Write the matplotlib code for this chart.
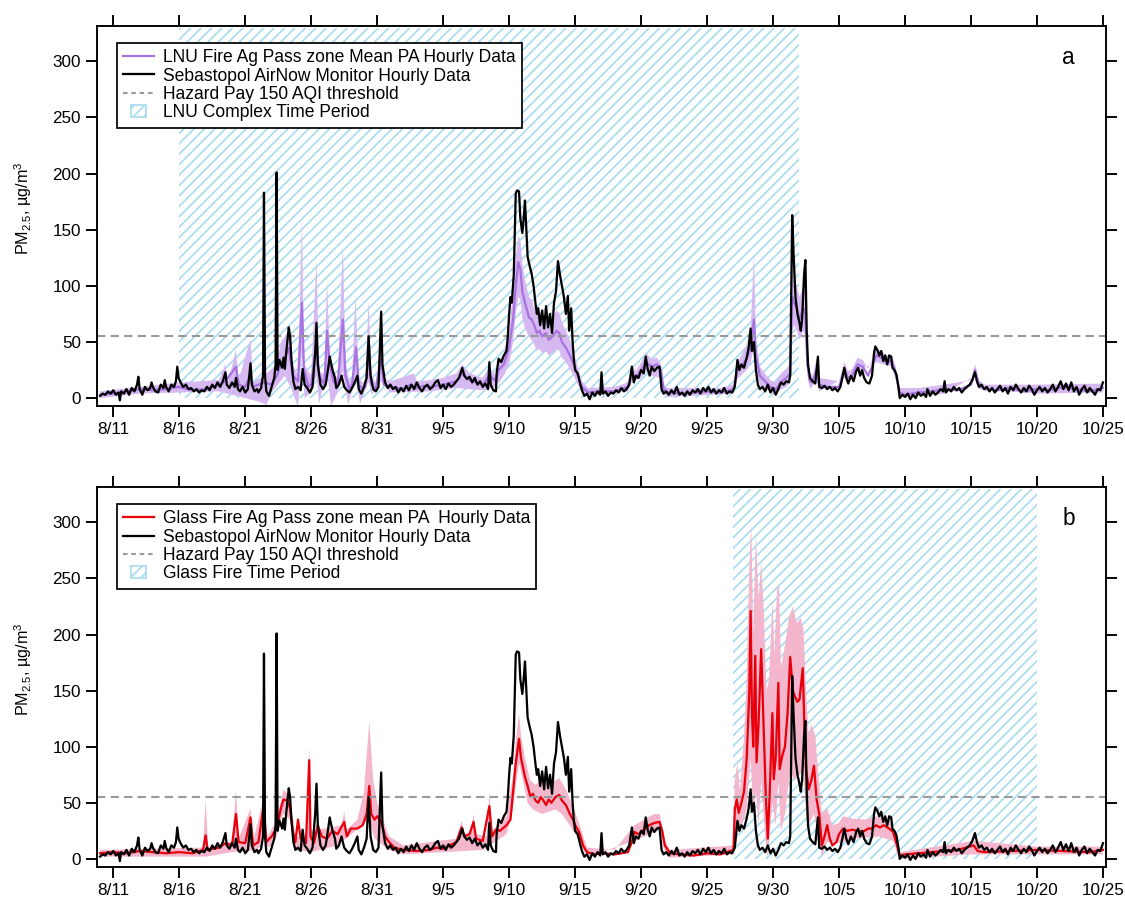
import numpy as np
import matplotlib
matplotlib.use("Agg")
import matplotlib.pyplot as plt
from matplotlib.lines import Line2D
from matplotlib.patches import Patch, Rectangle
from matplotlib.legend_handler import HandlerPatch

plt.rcParams['font.family'] = ['Liberation Sans', 'DejaVu Sans']
plt.rcParams['hatch.linewidth'] = 1.0
plt.rcParams['mathtext.fontset'] = 'custom'
plt.rcParams['mathtext.rm'] = 'Liberation Sans'
plt.rcParams['mathtext.it'] = 'Liberation Sans'

############################################
# Data (x = days after 8/11 00:00, y = PM2.5 ug/m3)
############################################
tick_days = [0, 5, 10, 15, 20, 25, 30, 35, 40, 45, 50, 55, 60, 65, 70, 75]
tick_labels = ['8/11', '8/16', '8/21', '8/26', '8/31', '9/5', '9/10', '9/15',
               '9/20', '9/25', '9/30', '10/5', '10/10', '10/15', '10/20', '10/25']
threshold = 55.5
lnu_period = [5, 52]      # 8/16 - 10/2
glass_period = [47, 70]   # 9/27 - 10/20
hatch_top = 330

# Sebastopol AirNow monitor
sebastopol = [
    (-1.0,2),(-0.8,4),(-0.6,3),(-0.4,6),(-0.2,4),(0.0,7),(0.2,3),(0.4,5),(0.5,-2),(0.6,6),(0.8,4),
    (1.0,8),(1.2,3),(1.4,9),(1.6,6),(1.8,12),(1.9,19),(2.0,8),(2.2,3),(2.4,10),(2.6,7),(2.8,9),
    (2.9,14),(3.0,10),(3.2,6),(3.4,5),(3.6,12),(3.8,9),(3.9,16),(4.0,10),(4.2,6),(4.4,12),(4.6,10),
    (4.75,15),(4.85,28),(4.95,18),(5.1,14),(5.3,10),(5.5,12),(5.7,8),(5.9,9),(6.1,6),(6.3,8),
    (6.5,5),(6.7,7),(6.9,6),(7.1,10),(7.3,7),(7.5,12),(7.7,9),(7.9,14),(8.1,10),(8.3,15),(8.5,23),
    (8.6,12),(8.8,9),(9.0,14),(9.2,10),(9.3,18),(9.45,8),(9.6,6),(9.8,10),(10.0,5),(10.2,8),
    (10.4,31),(10.5,12),(10.7,6),(10.9,8),(11.0,5),(11.2,9),(11.35,20),(11.42,183),(11.5,20),
    (11.6,6),(11.8,2),(12.0,10),(12.2,18),(12.3,30),(12.38,201),(12.45,25),(12.6,34),(12.8,27),
    (12.9,36),(13.0,26),(13.1,40),(13.3,63),(13.4,55),(13.5,35),(13.65,15),(13.8,8),(14.0,10),
    (14.2,7),(14.35,26),(14.5,12),(14.7,9),(14.9,5),(15.1,10),(15.3,40),(15.4,67),(15.5,30),
    (15.7,12),(15.9,8),(16.1,12),(16.3,28),(16.4,37),(16.6,26),(16.8,18),(16.9,9),(17.1,12),
    (17.3,20),(17.5,10),(17.7,7),(17.9,5),(18.1,9),(18.3,14),(18.5,20),(18.6,8),(18.8,4),(19.0,10),
    (19.2,18),(19.35,55),(19.5,20),(19.7,8),(19.9,6),(20.1,10),(20.3,77),(20.4,30),(20.6,14),
    (20.8,9),(21.0,12),(21.2,8),(21.4,10),(21.6,5),(21.8,9),(22.0,6),(22.2,11),(22.4,7),(22.6,12),
    (22.8,8),(23.0,14),(23.2,9),(23.4,6),(23.6,10),(23.8,12),(24.0,8),(24.2,10),(24.4,14),(24.6,16),
    (24.8,9),(25.0,12),(25.2,8),(25.4,13),(25.6,10),(25.8,12),(26.0,15),(26.2,18),(26.45,27),
    (26.6,20),(26.8,17),(27.0,19),(27.2,14),(27.4,18),(27.6,12),(27.8,15),(28.0,10),(28.2,13),
    (28.4,8),(28.5,32),(28.6,12),(28.8,7),(29.0,6),(29.05,22),(29.2,35),(29.4,32),(29.6,38),
    (29.8,42),(29.9,55),(30.0,75),(30.1,90),(30.2,85),(30.35,110),(30.5,182),(30.6,185),(30.75,184),
    (30.85,160),(31.0,147),(31.1,160),(31.2,176),(31.3,150),(31.4,126),(31.55,118),(31.7,111),
    (31.85,100),(32.0,84),(32.1,75),(32.2,80),(32.35,65),(32.5,78),(32.65,62),(32.8,82),(32.95,63),
    (33.1,75),(33.25,58),(33.4,85),(33.55,95),(33.7,122),(33.85,110),(34.0,100),(34.15,90),
    (34.3,75),(34.45,91),(34.55,60),(34.7,80),(34.8,52),(34.9,35),(35.0,25),(35.2,22),(35.4,12),
    (35.55,6),(35.7,2),(35.9,4),(36.1,-1),(36.3,5),(36.5,2),(36.7,6),(36.9,3),(37.0,23),(37.1,4),
    (37.3,6),(37.5,2),(37.7,5),(37.9,4),(38.1,7),(38.3,5),(38.5,9),(38.7,6),(38.9,8),(39.1,12),
    (39.3,28),(39.45,14),(39.6,20),(39.8,18),(40.0,25),(40.2,22),(40.35,37),(40.5,26),(40.65,20),
    (40.8,28),(41.0,24),(41.2,27),(41.4,28),(41.55,8),(41.7,4),(41.9,6),(42.1,3),(42.3,7),(42.5,4),
    (42.7,10),(42.9,3),(43.1,5),(43.3,2),(43.5,6),(43.7,3),(43.9,7),(44.1,5),(44.3,8),(44.5,4),
    (44.7,9),(44.9,6),(45.1,10),(45.3,5),(45.5,8),(45.7,4),(45.9,7),(46.1,5),(46.3,9),(46.5,4),
    (46.7,6),(46.9,5),(47.1,10),(47.3,34),(47.45,25),(47.6,30),(47.8,27),(48.0,36),(48.15,45),
    (48.3,62),(48.4,42),(48.55,50),(48.7,25),(48.85,12),(49.0,8),(49.2,10),(49.4,6),(49.6,12),
    (49.8,5),(50.0,9),(50.2,3),(50.4,8),(50.6,14),(50.8,12),(51.0,15),(51.2,14),(51.3,20),
    (51.45,163),(51.55,130),(51.7,90),(51.85,75),(52.0,67),(52.1,60),(52.2,70),(52.35,110),
    (52.45,123),(52.55,60),(52.65,30),(52.8,18),(53.0,15),(53.2,13),(53.4,37),(53.5,10),(53.7,9),
    (53.9,11),(54.1,8),(54.3,10),(54.5,7),(54.7,9),(54.9,6),(55.1,10),(55.25,18),(55.4,27),
    (55.55,18),(55.7,13),(55.9,20),(56.1,15),(56.3,24),(56.45,27),(56.6,20),(56.75,25),(56.9,18),
    (57.1,14),(57.3,13),(57.5,20),(57.65,40),(57.75,46),(57.9,43),(58.05,38),(58.2,42),(58.35,33),
    (58.5,38),(58.65,30),(58.8,38),(58.95,37),(59.05,27),(59.2,25),(59.35,21),(59.5,10),(59.6,0),
    (59.8,3),(60.0,1),(60.2,4),(60.4,-1),(60.6,3),(60.8,0),(61.0,5),(61.2,2),(61.4,4),(61.6,1),
    (61.7,8),(61.9,2),(62.1,6),(62.3,3),(62.5,5),(62.7,8),(62.9,6),(63.0,15),(63.1,5),(63.3,8),
    (63.5,6),(63.7,10),(63.9,7),(64.1,9),(64.3,5),(64.5,8),(64.7,10),(64.9,12),(65.1,16),(65.3,23),
    (65.45,15),(65.6,10),(65.8,12),(66.0,8),(66.2,10),(66.4,6),(66.6,9),(66.8,5),(67.0,8),(67.2,11),
    (67.4,6),(67.6,9),(67.8,4),(68.0,10),(68.2,7),(68.4,12),(68.6,8),(68.8,5),(69.0,9),(69.2,6),
    (69.4,11),(69.6,8),(69.8,3),(70.0,7),(70.2,10),(70.4,6),(70.6,9),(70.8,5),(71.0,8),(71.2,12),
    (71.4,6),(71.6,10),(71.8,15),(72.0,8),(72.2,13),(72.4,7),(72.6,14),(72.8,6),(73.0,10),(73.2,3),
    (73.4,8),(73.6,11),(73.8,5),(74.0,9),(74.2,6),(74.4,3),(74.6,8),(74.8,7),(75.0,14),
]

# LNU Fire Ag Pass zone mean PurpleAir
lnu_mean = [
    (-1.0,3),(0,4),(1,6),(2,8),(3,7),(4,8),(5,10),(6,7),(7,8),(8,12),(8.5,15),(9.3,28),(9.5,12),
    (10,10),(10.4,20),(10.6,10),(11.4,14),(12.0,12),(12.4,20),(12.7,30),(13.0,35),(13.3,45),
    (13.6,20),(14.0,15),(14.3,85),(14.45,25),(14.8,10),(15.0,12),(15.4,50),(15.6,20),(16.0,12),
    (16.2,60),(16.4,30),(16.7,15),(17.0,10),(17.4,70),(17.6,20),(17.9,8),(18.1,12),(18.4,45),
    (18.6,12),(18.9,8),(19.1,10),(19.35,40),(19.55,12),(19.9,8),(20.3,35),(20.5,12),(21,10),(22,8),
    (22.5,12),(23,9),(23.5,11),(24,10),(25,12),(26,15),(26.45,22),(27,16),(28,12),(28.5,20),
    (29.0,15),(29.2,25),(29.6,30),(30.0,45),(30.3,70),(30.5,100),(30.7,121),(30.85,115),(31.0,95),
    (31.2,85),(31.5,72),(31.7,70),(31.9,65),(32.1,58),(32.3,60),(32.5,55),(32.8,58),(33.0,52),
    (33.3,55),(33.6,60),(33.8,58),(34.0,50),(34.3,45),(34.6,38),(34.9,30),(35.2,20),(35.5,10),
    (36,5),(37,6),(38,6),(39,10),(39.3,22),(39.6,18),(40.0,25),(40.4,32),(40.8,28),(41.2,30),
    (41.5,25),(41.7,8),(42,5),(43,4),(44,5),(45,6),(46,5),(47,8),(47.3,25),(47.6,28),(48.0,35),
    (48.3,45),(48.55,70),(48.7,38),(49.0,20),(49.4,15),(49.8,10),(50.2,8),(50.6,14),(51.0,18),
    (51.3,22),(51.45,90),(51.6,85),(51.8,80),(52.0,70),(52.3,80),(52.45,75),(52.6,30),(52.8,15),
    (53.0,14),(53.3,25),(53.5,12),(54,10),(55,10),(55.4,25),(55.7,18),(56.0,20),(56.4,30),
    (56.8,28),(57.2,20),(57.5,28),(57.8,38),(58.2,36),(58.6,32),(59.0,33),(59.3,22),(59.6,5),
    (60,3),(61,5),(62,6),(63,8),(64,7),(65,12),(65.3,25),(65.6,12),(66,8),(67,7),(68,9),(69,6),
    (70,8),(71,7),(72,10),(73,8),(74,6),(75.0,9),
]
lnu_upper = [
    (-1.0,6),(2,10),(5,14),(8,16),(8.5,30),(8.7,14),(9.3,43),(9.5,16),(10.4,53),(10.6,14),(11.4,20),
    (12.4,30),(12.7,50),(13.0,55),(13.3,60),(13.6,30),(14.0,20),(14.3,160),(14.45,30),(15.0,20),
    (15.4,123),(15.6,25),(16.0,20),(16.2,105),(16.4,40),(16.7,22),(17.0,18),(17.4,135),(17.6,30),
    (17.9,15),(18.1,18),(18.35,92),(18.6,18),(18.9,14),(19.1,16),(19.35,87),(19.55,20),(19.9,14),
    (20.3,55),(20.5,18),(21,15),(22.8,22),(23,15),(24,16),(25,18),(26,22),(26.45,30),(27,22),
    (28,18),(28.5,28),(29.0,20),(29.2,32),(29.6,40),(30.0,60),(30.3,95),(30.5,125),(30.7,145),
    (30.85,140),(31.0,120),(31.2,105),(31.5,90),(31.7,88),(31.9,80),(32.1,75),(32.3,78),(32.5,72),
    (32.8,76),(33.0,70),(33.3,73),(33.6,78),(33.8,76),(34.0,68),(34.3,60),(34.6,52),(34.9,40),
    (35.2,28),(35.5,15),(36,9),(38,10),(39,14),(39.3,30),(39.6,24),(40.0,32),(40.4,40),(40.8,35),
    (41.2,36),(41.5,30),(41.7,12),(42,9),(46,9),(47,12),(47.3,33),(47.6,38),(48.0,48),(48.3,60),
    (48.55,127),(48.7,55),(49.0,28),(49.4,22),(49.8,16),(50.2,14),(50.6,22),(51.0,26),(51.3,30),
    (51.45,150),(51.6,105),(51.8,100),(52.0,90),(52.3,100),(52.45,95),(52.6,40),(52.8,22),
    (53.0,20),(53.3,35),(53.5,18),(55,15),(55.4,32),(55.7,24),(56.0,26),(56.4,36),(56.8,34),
    (57.2,26),(57.5,34),(57.8,44),(58.2,42),(58.6,38),(59.0,38),(59.3,28),(59.6,9),(61,9),(63,12),
    (65,16),(65.3,30),(65.6,16),(66,12),(70,12),(75.0,13),
]
lnu_lower = [
    (-1.0,0),(2,4),(5,5),(8,6),(9,3),(11,-3),(11.6,-6),(12,5),(13,20),(13.5,8),(14.0,-8),(14.3,40),
    (14.5,0),(15,5),(15.4,20),(15.6,-5),(16.2,25),(16.5,-7),(17,5),(17.4,25),(17.8,-6),(18.4,20),
    (18.7,-5),(19.35,15),(19.6,3),(20.3,15),(21,5),(24,6),(26,9),(28,7),(29,10),(29.6,20),(30.0,30),
    (30.3,50),(30.5,75),(30.7,90),(30.85,88),(31.0,72),(31.2,62),(31.5,55),(31.7,52),(31.9,48),
    (32.1,42),(32.3,44),(32.5,40),(32.8,42),(33.0,38),(33.3,40),(33.6,44),(33.8,42),(34.0,36),
    (34.3,32),(34.6,26),(34.9,20),(35.2,12),(35.5,5),(36,2),(39,6),(39.3,14),(40.0,18),(40.4,24),
    (40.8,20),(41.5,18),(41.7,4),(42,1),(47,4),(47.3,17),(48.0,25),(48.3,32),(48.55,45),(48.7,25),
    (49.0,12),(50,4),(51.0,10),(51.3,14),(51.45,60),(51.6,65),(51.8,60),(52.0,52),(52.3,60),
    (52.45,55),(52.6,20),(52.8,8),(53.3,15),(53.5,6),(55.4,18),(56.4,24),(57.8,32),(59.0,28),
    (59.3,16),(59.6,1),(63,4),(65.3,20),(65.6,8),(70,4),(75.0,5),
]

# Glass Fire Ag Pass zone mean PurpleAir
glass_mean = [
    (-1.0,5),(0,6),(1,5),(2,7),(3,6),(4,5),(5,6),(6,5),(6.8,8),(7.0,21),(7.15,8),(7.5,9),(8,10),
    (8.5,14),(9.0,12),(9.3,40),(9.5,15),(10.0,14),(10.4,37),(10.6,12),(11.0,15),(11.4,48),(11.6,15),
    (12.0,20),(12.4,28),(12.7,45),(12.9,53),(13.2,52),(13.4,45),(13.6,25),(13.8,15),(14.0,35),
    (14.2,18),(14.6,14),(14.85,88),(14.95,20),(15.2,14),(15.5,30),(15.8,20),(16.2,18),(16.6,25),
    (17.0,22),(17.5,33),(17.7,20),(18.0,27),(18.5,27),(18.9,30),(19.2,40),(19.4,65),(19.55,40),
    (19.8,35),(20.0,38),(20.3,33),(20.6,20),(20.9,15),(21.3,10),(22,8),(23,7),(24,8),(24.5,10),
    (25,9),(25.5,12),(26,15),(26.4,28),(26.6,20),(27.0,22),(27.3,33),(27.5,18),(28.0,16),(28.5,47),
    (28.7,20),(29.0,26),(29.3,25),(29.8,30),(30.1,35),(30.3,60),(30.5,85),(30.75,107),(30.9,90),
    (31.2,73),(31.4,65),(31.6,56),(31.8,58),(32.0,52),(32.2,50),(32.4,55),(32.6,52),(32.8,48),
    (33.0,53),(33.2,50),(33.5,55),(33.8,57),(34.0,52),(34.3,48),(34.6,40),(34.8,36),(35.0,30),
    (35.3,24),(35.6,12),(35.9,6),(36.5,4),(37,5),(38,4),(39,6),(39.3,15),(39.5,24),(39.8,22),
    (40.2,26),(40.6,30),(41.0,32),(41.4,33),(41.6,25),(41.8,12),(42.2,5),(43,4),(44,3),(45,5),
    (46,4),(47.0,8),(47.1,44),(47.25,53),(47.4,41),(47.6,50),(47.8,60),(48.0,89),(48.2,150),
    (48.3,221),(48.4,130),(48.5,100),(48.65,181),(48.75,86),(48.9,120),(49.1,187),(49.25,130),
    (49.45,56),(49.6,18),(49.75,60),(49.95,130),(50.05,71),(50.2,90),(50.4,157),(50.5,80),(50.7,92),
    (50.9,100),(51.1,130),(51.3,180),(51.5,150),(51.65,145),(51.85,140),(52.0,142),(52.25,170),
    (52.4,107),(52.5,80),(52.7,62),(52.9,70),(53.1,83),(53.3,53),(53.5,40),(53.7,12),(53.9,20),
    (54.1,30),(54.3,18),(54.5,12),(54.8,15),(55.0,22),(55.3,27),(55.6,25),(56.0,26),(56.4,25),
    (56.8,24),(57.2,27),(57.5,27),(57.8,30),(58.1,28),(58.4,30),(58.8,27),(59.1,24),(59.4,12),
    (59.6,3),(60,4),(61,5),(62,6),(63,7),(64,8),(65.2,12),(65.5,7),(66,6),(68,7),(70,8),(72,7),
    (74,6),(75.0,8),
]
glass_upper = [
    (-1.0,8),(6.8,10),(7.0,53),(7.2,10),(9.0,16),(9.3,61),(9.5,18),(10.4,45),(10.6,15),(11.4,55),
    (11.6,18),(12.4,35),(12.9,62),(13.4,55),(13.8,20),(14.6,18),(14.85,100),(15.0,25),(16.5,28),
    (17.3,30),(17.5,42),(17.7,26),(18.5,35),(19.0,60),(19.4,123),(19.7,70),(20.0,50),(20.3,40),
    (20.9,20),(22,12),(26.0,18),(26.4,34),(26.6,22),(27.1,24),(27.3,40),(27.5,22),(28.3,20),
    (28.5,60),(28.7,25),(29.8,38),(30.3,75),(30.5,105),(30.75,130),(30.9,110),(31.2,90),(31.6,70),
    (32.0,66),(32.4,70),(33.0,68),(33.5,70),(33.8,72),(34.3,62),(34.8,48),(35.3,32),(35.9,10),
    (38,8),(39.5,30),(41.0,40),(41.4,40),(41.8,16),(42.2,8),(47.0,12),(47.1,70),(47.3,85),(47.5,60),
    (47.8,110),(48.0,160),(48.2,260),(48.35,300),(48.5,200),(48.7,290),(48.9,230),(49.1,265),
    (49.3,220),(49.5,150),(49.7,160),(49.95,230),(50.1,180),(50.3,240),(50.45,245),(50.6,170),
    (50.9,190),(51.2,215),(51.5,225),(51.8,210),(52.1,215),(52.3,205),(52.5,150),(52.7,110),
    (52.9,120),(53.2,110),(53.4,80),(53.7,40),(54.1,45),(54.5,30),(55.0,32),(55.3,38),(56.0,36),
    (57.0,35),(57.8,38),(58.8,35),(59.4,18),(59.6,6),(65.2,16),(70,11),(75.0,11),
]
glass_lower = [
    (-1.0,2),(7,2),(9,6),(10.8,8),(11.3,12),(11.4,35),(11.55,10),(12.0,12),(12.4,20),(12.7,35),
    (12.9,40),(13.4,35),(13.8,8),(15,6),(17,12),(19.4,35),(19.8,18),(20.9,8),(22,4),(28,8),
    (29.8,22),(30.3,45),(30.5,65),(30.75,85),(31.0,72),(31.4,50),(31.8,44),(32.5,40),(33.5,44),
    (34.0,40),(34.6,30),(35.3,16),(35.9,2),(39.5,16),(41.4,26),(41.8,6),(42.2,1),(47.0,4),(47.1,20),
    (47.5,28),(47.8,35),(48.0,45),(48.3,90),(48.5,40),(48.7,60),(48.9,30),(49.1,70),(49.4,20),
    (49.6,0),(49.95,50),(50.2,30),(50.4,70),(50.6,25),(50.9,40),(51.3,80),(51.6,70),(52.0,75),
    (52.3,80),(52.5,40),(52.7,30),(53.1,40),(53.5,15),(53.7,2),(54.1,15),(55.0,14),(56.0,18),
    (58.0,20),(59.1,16),(59.4,5),(59.6,0),(65,4),(75.0,4),
]

lnu_labels = ['LNU Fire Ag Pass zone Mean PA Hourly Data', 'LNU Complex Time Period']
glass_labels = ['Glass Fire Ag Pass zone mean PA  Hourly Data', 'Glass Fire Time Period']
monitor_label = 'Sebastopol AirNow Monitor Hourly Data'
threshold_label = 'Hazard Pay 150 AQI threshold'

##################################################################
# Colours
##################################################################
hatch_colour = '#a9dcef'
purple_line = '#a873e0'
purple_band = '#d7b9f2'
red_line = '#e8000b'
pink_band = '#f4b6cc'
grey_dash = '#9a9a9a'


def small_box(legend, orig_handle, xdescent, ydescent, width, height, fontsize):
    w = height * 1.2
    return Rectangle((-xdescent + (width - w) / 2, -ydescent), w, height)


def draw_panel(ax, mean, upper, lower, line_col, band_col, period, labels, letter):
    mean = np.array(mean)
    upper = np.array(upper)
    lower = np.array(lower)
    seb = np.array(sebastopol)

    ax.fill_between(period, 0, hatch_top, facecolor='none', edgecolor=hatch_colour,
                    hatch='////', linewidth=0, zorder=0)
    band_x = np.concatenate([upper[:, 0], lower[::-1, 0]])
    band_y = np.concatenate([upper[:, 1], lower[::-1, 1]])
    ax.fill(band_x, band_y, color=band_col, linewidth=0, zorder=1)
    ax.plot(mean[:, 0], mean[:, 1], color=line_col, lw=1.3, zorder=2)
    ax.axhline(threshold, color=grey_dash, lw=1.2, dashes=(4, 2.5), zorder=2.5)
    ax.plot(seb[:, 0], seb[:, 1], color='black', lw=1.3, zorder=3)

    ax.set_xlim(-1.235, 75.23)
    ax.set_ylim(-7, 331.5)
    ax.set_xticks(tick_days)
    ax.set_xticklabels(tick_labels)
    ax.set_yticks([0, 50, 100, 150, 200, 250, 300])
    ax.tick_params(direction='out', length=6.3, width=1.1, labelsize=9.9, pad=3,
                   top=True, right=True, labeltop=False, labelright=False)
    for s in ax.spines.values():
        s.set_linewidth(1.1)
    ax.set_ylabel('PM$_{2.5}$, µg/m$^3$', fontsize=9.3)
    ax.yaxis.set_label_coords(-0.062, 0.52)

    handles = [Line2D([], [], color=line_col, lw=1.3),
               Line2D([], [], color='black', lw=1.3),
               Line2D([], [], color=grey_dash, lw=1.2, dashes=(2.2, 1.8)),
               Patch(facecolor='none', edgecolor=hatch_colour, hatch='////', lw=1)]
    leg = ax.legend(handles, [labels[0], monitor_label, threshold_label, labels[1]],
                    loc='upper left', bbox_to_anchor=(0.02, 0.955), borderaxespad=0,
                    fontsize=10.1, handlelength=1.75, handletextpad=0.5, labelspacing=0.08,
                    borderpad=0.35, fancybox=False, framealpha=1, edgecolor='black',
                    handler_map={Patch: HandlerPatch(patch_func=small_box)})
    leg.get_frame().set_linewidth(1.0)
    ax.text(0.963, 0.9, letter, transform=ax.transAxes, ha='center', va='baseline',
            fontsize=13)


fig = plt.figure(figsize=(9, 7.256), dpi=125)
ax_a = fig.add_axes([0.0862, 0.5524, 0.8969, 0.419])
ax_b = fig.add_axes([0.0862, 0.0444, 0.8969, 0.4186])

draw_panel(ax_a, lnu_mean, lnu_upper, lnu_lower, purple_line, purple_band,
           lnu_period, lnu_labels, 'a')
draw_panel(ax_b, glass_mean, glass_upper, glass_lower, red_line, pink_band,
           glass_period, glass_labels, 'b')

fig.savefig('out.png', dpi=125)
